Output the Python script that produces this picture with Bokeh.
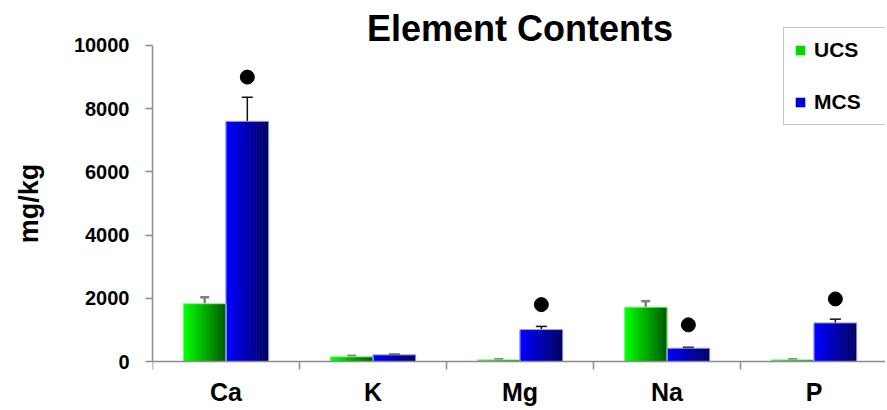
import numpy as np
from bokeh.plotting import figure
from bokeh.models import (ColumnDataSource, FixedTicker, Range1d, Whisker, TeeHead,
                          Legend, LegendItem, Label)
from bokeh.embed import file_html
from bokeh.resources import INLINE

# ---- data ----
elements = ["Ca", "K", "Mg", "Na", "P"]
ucs = [1830, 150, 50, 1720, 50]
ucs_err = [200, 30, 20, 190, 20]
mcs = [7600, 210, 1010, 420, 1220]
mcs_err = [760, 20, 100, 30, 120]
sig = [9000, np.nan, 1800, 1160, 1980]
y_ticks = [0, 2000, 4000, 6000, 8000, 10000]
y_max_tick = 10000

FONT = "Liberation Sans"
BAR_W = 0.29
N_SLICES = 14

p = figure(width=885, height=406, output_backend="svg", toolbar_location=None,
           x_range=Range1d(-0.5, 4.486), y_range=Range1d(-1424, 11424),
           min_border_left=152, min_border_top=0, min_border_right=0, min_border_bottom=0,
           title=None)
p.outline_line_color = None
p.xgrid.visible = False
p.ygrid.visible = False
p.background_fill_color = "white"
p.border_fill_color = "white"


def hex_interp(c0, c1, t):
    return "#%02x%02x%02x" % tuple(int(round(a + (b - a) * t)) for a, b in zip(c0, c1))


def gradient_bars(values, offset, c_light, c_dark):
    xs, tops, cols = [], [], []
    sw = BAR_W / N_SLICES
    for i, v in enumerate(values):
        left = i + offset - BAR_W / 2
        for k in range(N_SLICES):
            xs.append(left + (k + 0.5) * sw)
            tops.append(v)
            cols.append(hex_interp(c_light, c_dark, k / (N_SLICES - 1)))
    src = ColumnDataSource(dict(x=xs, top=tops, color=cols))
    return p.vbar(x="x", top="top", bottom=0, width=sw * 1.2, fill_color="color",
                  line_color=None, source=src)


x = np.arange(len(elements))
r_ucs = gradient_bars(ucs, -BAR_W / 2, (0, 255, 0), (0, 95, 0))
r_mcs = gradient_bars(mcs, BAR_W / 2, (0, 0, 255), (0, 0, 100))
p.vbar(x=x - BAR_W / 2, top=ucs, width=BAR_W, fill_color=None, line_color="#7dff7d", line_width=1)
p.vbar(x=x + BAR_W / 2, top=mcs, width=BAR_W, fill_color=None, line_color="#9a9aff", line_width=1)

# error bars
src_ue = ColumnDataSource(dict(x=x - BAR_W / 2, upper=np.array(ucs) + np.array(ucs_err),
                               lower=np.array(ucs) - np.array(ucs_err)))
src_me = ColumnDataSource(dict(x=x + BAR_W / 2, upper=np.array(mcs) + np.array(mcs_err),
                               lower=np.array(mcs) - np.array(mcs_err)))
p.add_layout(Whisker(source=src_ue, base="x", upper="upper", lower="lower", dimension="height",
                     line_color="#808080", line_width=2.5,
                     upper_head=TeeHead(size=9, line_color="#808080", line_width=2.5),
                     lower_head=TeeHead(size=9, line_color="#808080", line_width=2.5)))
p.add_layout(Whisker(source=src_me, base="x", upper="upper", lower="lower", dimension="height",
                     line_color="#111111", line_width=1.5,
                     upper_head=TeeHead(size=11, line_color="#111111", line_width=1.5),
                     lower_head=TeeHead(size=11, line_color="#111111", line_width=1.5)))

# significance markers
p.scatter(x=x + BAR_W / 2, y=sig, size=14, color="black")

# axes
p.yaxis.ticker = FixedTicker(ticks=y_ticks)
p.yaxis.bounds = (0, y_max_tick)
p.yaxis.axis_line_color = "#8c8c8c"
p.yaxis.axis_line_width = 1.5
p.yaxis.major_tick_line_color = "#8c8c8c"
p.yaxis.major_tick_line_width = 1.5
p.yaxis.major_tick_out = 7
p.yaxis.major_tick_in = 0
p.yaxis.minor_tick_line_color = None
p.yaxis.major_label_text_font = FONT
p.yaxis.major_label_text_font_style = "bold"
p.yaxis.major_label_text_font_size = "20px"
p.yaxis.major_label_text_color = "black"
p.yaxis.major_label_standoff = 16
p.yaxis.axis_label = "mg/kg"
p.yaxis.axis_label_text_font = FONT
p.yaxis.axis_label_text_font_style = "bold"
p.yaxis.axis_label_text_font_size = "27px"
p.yaxis.axis_label_text_color = "black"
p.yaxis.axis_label_standoff = 27

p.xaxis.fixed_location = 0
p.xaxis.ticker = FixedTicker(ticks=list(range(len(elements))),
                             minor_ticks=[i - 0.5 for i in range(len(elements) + 1)])
p.xaxis.major_label_overrides = {i: e for i, e in enumerate(elements)}
p.xaxis.axis_line_color = "#8c8c8c"
p.xaxis.axis_line_width = 1.5
p.xaxis.major_tick_line_color = None
p.xaxis.major_tick_out = 0
p.xaxis.major_tick_in = 0
p.xaxis.minor_tick_line_color = "#8c8c8c"
p.xaxis.minor_tick_line_width = 1.5
p.xaxis.minor_tick_out = 8
p.xaxis.minor_tick_in = 0
p.xaxis.major_label_text_font = FONT
p.xaxis.major_label_text_font_style = "bold"
p.xaxis.major_label_text_font_size = "25px"
p.xaxis.major_label_text_color = "black"
p.xaxis.major_label_standoff = 8

# title
p.add_layout(Label(x=2.0, y=10540, text="Element Contents",
                   text_font=FONT, text_font_style="bold", text_font_size="36px",
                   text_align="center", text_baseline="middle", text_color="black"))

# legend
legend = Legend(items=[LegendItem(label="UCS", renderers=[r_ucs], index=3),
                       LegendItem(label="MCS", renderers=[r_mcs], index=3)],
                location=(631, 281))
legend.glyph_width = 12
legend.glyph_height = 12
legend.label_height = 22
legend.label_width = 110
legend.spacing = 28
legend.padding = 10
legend.margin = 0
legend.label_standoff = 8
legend.label_text_font = FONT
legend.label_text_font_style = "bold"
legend.label_text_font_size = "21px"
legend.label_text_color = "black"
legend.border_line_color = "#8c8c8c"
legend.border_line_width = 1.5
legend.background_fill_color = "white"
legend.background_fill_alpha = 1
p.add_layout(legend)

open("out.html", "w").write(file_html(p, INLINE))
